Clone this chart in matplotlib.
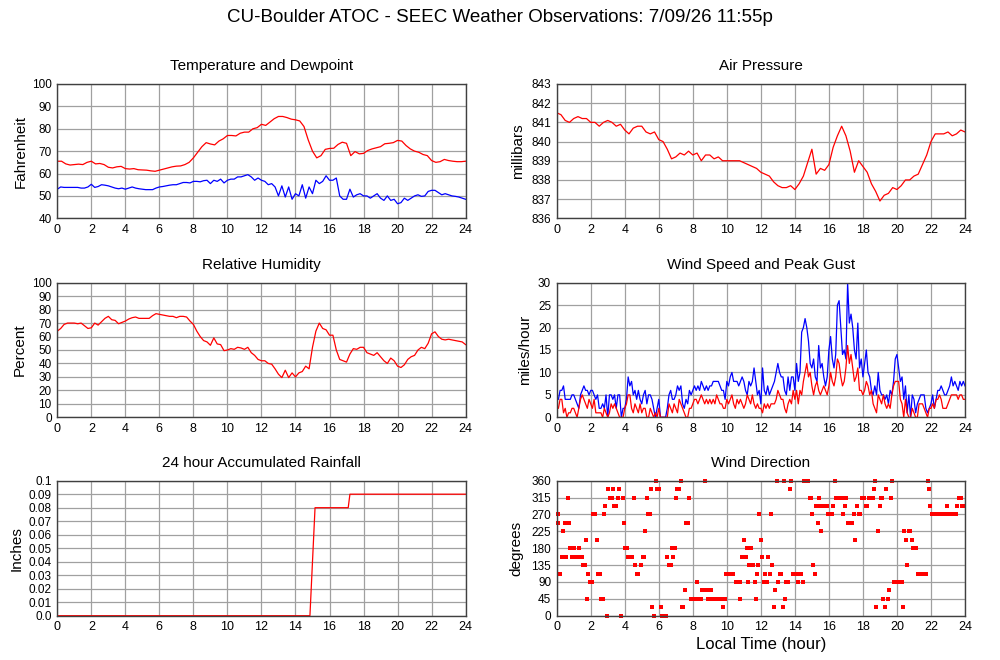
import numpy as np
import matplotlib
matplotlib.use("Agg")
import matplotlib.pyplot as plt

plt.rcParams['font.family'] = ['Liberation Sans', 'DejaVu Sans']

# ---------------- data ----------------
main_title = "CU-Boulder ATOC - SEEC Weather Observations: 7/09/26 11:55p"
hour_ticks = list(range(0, 25, 2))

# Temperature (F), every 15 minutes
temp_hours = np.arange(0, 24.001, 0.25)
temperature = [
    65.5, 65.5, 64.3, 63.8, 64.0, 64.2, 64.0, 65.0, 65.5, 64.3, 64.5, 64.0,
    62.8, 62.5, 63.0, 63.2, 62.2, 62.0, 62.2, 61.7, 61.6, 61.5, 61.2, 61.0,
    61.5, 62.0, 62.5, 63.0, 63.3, 63.4, 64.0, 65.0, 67.0, 69.5, 72.0, 73.8,
    73.2, 72.8, 74.5, 75.5, 77.0, 77.0, 76.8, 78.0, 78.5, 78.5, 80.0, 80.5,
    82.0, 81.5, 83.0, 84.5, 85.5, 85.5, 85.0, 84.3, 84.0, 83.5, 81.0, 75.0,
    70.0, 67.0, 68.0, 70.8, 71.2, 71.3, 73.0, 74.0, 73.5, 68.0, 69.8, 68.8,
    69.0, 70.3, 71.0, 71.5, 72.0, 73.3, 73.5, 73.8, 74.8, 74.5, 72.5, 71.0,
    70.0, 69.5, 68.5, 68.0, 65.8, 65.0, 65.3, 66.3, 65.8, 65.5, 65.3, 65.3,
    65.5]

# Dewpoint (F), every 12 minutes
dew_hours = np.arange(0, 24.001, 0.2)
dewpoint = [
    53, 54, 53.8, 53.8, 53.8, 53.8, 53.8, 53.5, 53.5, 54,
    55.2, 53.8, 54.2, 55, 54.8, 54.5, 54, 53.5, 53.2, 53.5,
    53, 53.5, 54, 53.5, 53.2, 53, 52.8, 52.8, 52.8, 53.5,
    54, 54.2, 54.5, 54.8, 55, 55, 55.5, 56, 56, 55.8,
    56.5, 56.5, 56.3, 56.8, 57, 55.5, 57, 56.5, 57.5, 55.8,
    57, 57.5, 57.5, 58.5, 58.5, 59, 59.5, 58.5, 57, 58,
    57, 56.5, 55, 55.5, 54, 50, 54.5, 49.5, 54, 48.5,
    51, 50, 55, 49, 54, 51, 57, 55.5, 56.5, 59,
    57, 57, 58, 50, 48.5, 48.5, 53, 49.5, 50.5, 51,
    50, 50, 49, 50, 51, 49, 48, 50, 48, 48.5,
    46.5, 47, 49, 48, 49, 50, 50.5, 49.8, 50, 52,
    52.5, 52.5, 51.5, 50.5, 51, 50.5, 50, 49.8, 49.5, 49,
    48.5]

# Air pressure (mb), every 15 minutes
pres_hours = np.arange(0, 24.001, 0.25)
pressure = [
    841.5, 841.4, 841.1, 841.0, 841.2, 841.3, 841.2, 841.2, 841.0, 841.0, 840.8, 841.0,
    841.1, 841.0, 840.8, 840.9, 840.6, 840.4, 840.7, 840.8, 840.8, 840.5, 840.4, 840.5,
    840.1, 840.0, 839.6, 839.1, 839.2, 839.4, 839.3, 839.5, 839.3, 839.4, 839.0, 839.3,
    839.3, 839.1, 839.2, 839.0, 839.0, 839.0, 839.0, 839.0, 838.9, 838.8, 838.7, 838.6,
    838.4, 838.3, 838.2, 837.9, 837.7, 837.6, 837.6, 837.7, 837.5, 837.8, 838.2, 838.9,
    839.6, 838.3, 838.6, 838.5, 838.8, 839.7, 840.3, 840.8, 840.3, 839.5, 838.4, 839.0,
    838.7, 838.4, 837.8, 837.4, 836.9, 837.2, 837.3, 837.6, 837.5, 837.7, 838.0, 838.0,
    838.2, 838.3, 838.8, 839.3, 840.0, 840.4, 840.4, 840.4, 840.5, 840.3, 840.4, 840.6,
    840.5]

# Relative humidity (%), every 12 minutes
rh_hours = np.arange(0, 24.001, 0.2)
humidity = [
    64, 66, 69, 70, 70, 70, 69.5, 70, 68, 66,
    66.5, 70, 68.5, 71, 73.5, 75, 72.5, 72, 69.5, 70.5,
    71.5, 73, 74, 74.5, 73.5, 73.5, 73.5, 73.5, 75.5, 77,
    76.5, 76, 75.5, 75, 75, 74, 75, 75, 74.5, 71.5,
    69, 64, 60, 57, 56, 53.5, 59, 54.5, 54, 49.5,
    50, 51, 50.5, 52, 51.5, 50.5, 52, 48, 46, 43,
    42, 42, 40, 39.5, 36, 32, 29.5, 35, 29.5, 33,
    30, 33, 34, 38, 36, 52, 64, 70, 66, 65,
    61, 61, 50, 43, 42, 41, 47, 51, 50.5, 52,
    52, 48, 47, 46, 48, 45, 42, 40, 44, 42,
    38, 37, 39, 43, 45, 46, 50, 52, 51, 55,
    62, 63.5, 60, 58, 57.5, 58, 57.5, 57, 56.5, 56,
    54]

# Wind speed and peak gust (mph), every 6 minutes
wind_hours = np.arange(0, 24.001, 0.1)
peak_gust = [
    4, 4, 6, 6, 7, 4, 4, 4, 4, 5,
    5, 4, 3, 2, 5, 6, 7, 6, 6, 5,
    6, 6, 5, 4, 5, 2, 2, 3, 2, 5,
    0, 5, 5, 4, 5, 2, 5, 5, 0, 2,
    2, 4, 9, 7, 8, 5, 6, 4, 6, 4,
    3, 5, 6, 3, 5, 5, 4, 2, 0, 2,
    4, 0, 0, 0, 0, 2, 5, 6, 4, 4,
    5, 7, 6, 7, 3, 2, 4, 3, 6, 5,
    6, 7, 6, 7, 6, 8, 7, 6, 7, 6,
    7, 7, 8, 8, 8, 8, 7, 6, 6, 4,
    8, 7, 9, 10, 8, 8, 8, 7, 8, 9,
    8, 6, 5, 8, 7, 8, 11, 8, 5, 6,
    3, 11, 6, 5, 7, 5, 6, 7, 8, 10,
    12, 10, 9, 9, 6, 5, 9, 6, 9, 9,
    6, 12, 8, 10, 19, 20, 22, 20, 17, 12,
    11, 13, 9, 8, 16, 11, 12, 9, 7, 9,
    15, 18, 13, 11, 14, 25, 26, 20, 14, 15,
    13, 30, 21, 23, 20, 15, 13, 21, 11, 13,
    9, 12, 15, 10, 9, 6, 5, 7, 5, 10,
    6, 5, 5, 4, 5, 3, 6, 5, 8, 13,
    14, 11, 8, 9, 4, 7, 1, 5, 0, 5,
    4, 1, 3, 4, 5, 5, 5, 2, 1, 2,
    3, 5, 2, 4, 6, 6, 7, 6, 5, 5,
    6, 7, 9, 7, 8, 7, 6, 8, 7, 8,
    7]
wind_speed = [
    2, 2, 4, 4, 1, 2, 0, 1, 1, 2,
    2, 1, 0, 2, 4, 5, 4, 3, 2, 4,
    3, 2, 4, 1, 1, 1, 1, 0, 2, 1,
    0, 1, 3, 2, 3, 2, 1, 0, 0, 0,
    2, 3, 5, 5, 2, 1, 3, 2, 1, 3,
    1, 2, 2, 0, 0, 2, 1, 0, 1, 0,
    2, 0, 0, 0, 0, 0, 3, 2, 1, 3,
    2, 1, 4, 3, 2, 1, 0, 0, 2, 2,
    3, 4, 4, 3, 4, 5, 4, 3, 4, 3,
    4, 3, 4, 3, 5, 4, 3, 3, 2, 2,
    4, 3, 4, 5, 3, 2, 4, 3, 4, 3,
    2, 3, 5, 4, 3, 5, 3, 2, 3, 2,
    2, 1, 3, 2, 3, 2, 3, 3, 3, 4,
    6, 5, 4, 4, 2, 1, 3, 4, 3, 6,
    4, 6, 3, 6, 5, 8, 10, 12, 9, 10,
    7, 5, 7, 8, 6, 5, 6, 7, 6, 5,
    7, 10, 8, 7, 9, 13, 12, 9, 7, 8,
    11, 16, 12, 14, 11, 8, 9, 11, 6, 6,
    5, 6, 8, 7, 5, 6, 3, 2, 1, 5,
    4, 3, 5, 3, 2, 3, 2, 5, 7, 8,
    8, 8, 4, 3, 0, 4, 1, 0, 0, 2,
    1, 0, 0, 3, 3, 3, 2, 1, 0, 2,
    2, 3, 2, 4, 4, 5, 4, 2, 2, 2,
    3, 4, 5, 5, 5, 5, 4, 5, 5, 4,
    4]

# 24 hour accumulated rainfall (inches)
rain_hours = [0, 14.85, 15.15, 17.1, 17.2, 24]
rain_inches = [0.0, 0.0, 0.08, 0.08, 0.09, 0.09]
rain_ticks = [0.0, 0.01, 0.02, 0.03, 0.04, 0.05, 0.06, 0.07, 0.08, 0.09, 0.1]
rain_labels = ['0.0', '0.01', '0.02', '0.03', '0.04', '0.05', '0.06', '0.07', '0.08', '0.09', '0.1']

# Wind direction (degrees)
dir_hours = [
    0.06, 0.1, 0.2, 0.3, 0.37, 0.5, 0.55, 0.65, 0.75, 0.8, 0.88, 0.95, 1.03, 1.07, 1.15, 1.2,
    1.3, 1.4, 1.5, 1.57, 1.65, 1.72, 1.78, 1.86, 1.97, 2.05, 2.15, 2.25, 2.35, 2.45, 2.55,
    2.6, 2.7, 2.8, 2.85, 2.95, 3.03, 3.13, 3.23, 3.3, 3.38, 3.48, 3.58, 3.67, 3.77, 3.87,
    3.97, 4.02, 4.12, 4.2, 4.32, 4.45, 4.55, 4.6, 4.7, 4.8, 4.95, 5.05, 5.15, 5.2, 5.28,
    5.38, 5.47, 5.53, 5.63, 5.73, 5.82, 5.92, 6.02, 6.12, 6.2, 6.3, 6.4, 6.5, 6.6, 6.7,
    6.8, 6.86, 6.94, 7.02, 7.1, 7.2, 7.3, 7.35, 7.45, 7.52, 7.62, 7.72, 7.8, 7.88, 7.97,
    8.07, 8.17, 8.27, 8.3, 8.37, 8.47, 8.56, 8.65, 8.7, 8.75, 8.85, 8.92, 8.99, 9.09, 9.18,
    9.28, 9.38, 9.48, 9.58, 9.68, 9.77, 9.87, 9.97, 10.07, 10.17, 10.27, 10.37, 10.55,
    10.65, 10.75, 10.8, 10.9, 11.0, 11.1, 11.16, 11.24, 11.33, 11.43, 11.53, 11.63, 11.69,
    11.79, 11.85, 11.92, 11.98, 12.08, 12.17, 12.27, 12.37, 12.43, 12.53, 12.6, 12.68,
    12.76, 12.86, 12.96, 13.02, 13.12, 13.2, 13.29, 13.35, 13.43, 13.5, 13.6, 13.7, 13.78,
    13.87, 13.95, 14.04, 14.13, 14.19, 14.29, 14.38, 14.46, 14.52, 14.6, 14.7, 14.8, 14.87,
    14.95, 15.0, 15.07, 15.16, 15.24, 15.34, 15.4, 15.5, 15.56, 15.63, 15.72, 15.8, 15.89,
    15.95, 16.04, 16.12, 16.18, 16.24, 16.34, 16.43, 16.52, 16.6, 16.68, 16.77, 16.83,
    16.92, 17.0, 17.12, 17.2, 17.28, 17.35, 17.45, 17.55, 17.65, 17.74, 17.84, 17.94,
    18.01, 18.08, 18.18, 18.23, 18.33, 18.42, 18.5, 18.59, 18.66, 18.72, 18.78, 18.88,
    18.98, 19.05, 19.15, 19.2, 19.31, 19.37, 19.45, 19.54, 19.64, 19.72, 19.8, 19.9, 20.0,
    20.1, 20.2, 20.3, 20.34, 20.42, 20.52, 20.58, 20.68, 20.77, 20.87, 20.93, 21.02, 21.12,
    21.22, 21.32, 21.42, 21.52, 21.62, 21.72, 21.81, 21.89, 21.96, 22.04, 22.13, 22.22,
    22.31, 22.4, 22.49, 22.58, 22.67, 22.76, 22.85, 22.92, 22.96, 23.02, 23.1, 23.18,
    23.26, 23.34, 23.42, 23.47, 23.55, 23.66, 23.76, 23.82, 23.94]
dir_degrees = [
    247.5, 270, 112.5, 157.5, 225, 247.5, 157.5, 315, 247.5, 180, 157.5, 157.5, 180, 157.5, 157.5, 157.5,
    180, 157.5, 157.5, 135, 135, 202.5, 45, 112.5, 90, 90, 270, 270, 202.5, 112.5, 112.5,
    45, 45, 270, 292.5, 0, 337.5, 315, 315, 337.5, 292.5, 292.5, 315, 337.5, 0, 315,
    247.5, 180, 180, 157.5, 157.5, 157.5, 315, 135, 112.5, 112.5, 135, 157.5, 157.5, 225, 315,
    270, 270, 337.5, 22.5, 0, 360, 337.5, 337.5, 22.5, 0, 0, 0, 157.5, 135, 135,
    180, 157.5, 180, 315, 337.5, 337.5, 360, 22.5, 22.5, 67.5, 247.5, 247.5, 315, 45, 45,
    45, 45, 90, 45, 45, 45, 67.5, 67.5, 360, 67.5, 67.5, 45, 45, 67.5, 45,
    45, 45, 45, 45, 45, 22.5, 45, 112.5, 112.5, 112.5, 112.5, 112.5, 90,
    90, 45, 90, 157.5, 202.5, 157.5, 180, 90, 135, 180, 135, 90, 45,
    112.5, 135, 270, 202.5, 157.5, 90, 112.5, 90, 157.5, 112.5, 270, 135,
    22.5, 67.5, 360, 90, 112.5, 112.5, 22.5, 360, 45, 90, 90, 337.5, 360,
    112.5, 112.5, 112.5, 112.5, 90, 112.5, 112.5, 90, 360, 360, 360, 360, 315,
    315, 270, 135, 112.5, 292.5, 247.5, 315, 292.5, 225, 292.5, 292.5, 292.5, 292.5,
    270, 270, 270, 270, 292.5, 360, 315, 315, 315, 315, 315, 270,
    292.5, 315, 247.5, 247.5, 247.5, 247.5, 270, 202.5, 292.5, 270, 270, 315,
    315, 315, 292.5, 292.5, 315, 315, 315, 315, 337.5, 360, 22.5, 225,
    292.5, 315, 315, 45, 22.5, 337.5, 45, 67.5, 315, 360, 90, 90, 90,
    90, 90, 90, 22.5, 225, 202.5, 135, 225, 225, 202.5, 180, 180, 180,
    112.5, 112.5, 112.5, 112.5, 112.5, 112.5, 360, 337.5, 292.5, 270, 270, 270,
    270, 270, 270, 270, 270, 270, 270, 270, 292.5, 270, 270, 270,
    270, 270, 270, 270, 292.5, 315, 315, 292.5, 292.5]

# ---------------- figure ----------------
RED = '#ff0000'
BLUE = '#0000ff'
GRID = '#a0a0a0'

fig = plt.figure(figsize=(10, 6.6), dpi=100)
fig.text(0.5, 1 - 18 / 660, main_title, ha='center', va='center', fontsize=13.5)

W = 660.0
left_x, right_x, aw = 57.3 / 1000, 556.7 / 1000, 408.3 / 1000
rows = [(84.0, 218.3), (282.7, 417.3), (480.7, 615.7)]


def make_ax(col, row):
    top, bot = rows[row]
    x = left_x if col == 0 else right_x
    return fig.add_axes([x, 1 - bot / W, aw, (bot - top) / W])


def style(ax, title, ylabel, ylim, yticks, ylabels=None, ylab_x=-0.075):
    ax.set_xlim(0, 24)
    ax.set_ylim(*ylim)
    ax.set_xticks(hour_ticks)
    ax.set_yticks(yticks)
    if ylabels is not None:
        ax.set_yticklabels(ylabels)
    ax.grid(True, color=GRID, linewidth=0.9)
    ax.set_axisbelow(True)
    ax.tick_params(axis='both', length=0)
    ax.tick_params(axis='x', labelsize=9, pad=4)
    ax.tick_params(axis='y', labelsize=8.5, pad=4)
    for s in ax.spines.values():
        s.set_color('#404040')
        s.set_linewidth(1.0)
    ax.set_title(title, fontsize=11, pad=10)
    ax.set_ylabel(ylabel, fontsize=11)
    ax.yaxis.set_label_coords(ylab_x, 0.5)


# Temperature and dewpoint
ax = make_ax(0, 0)
ax.plot(temp_hours, temperature, color=RED, lw=0.9)
ax.plot(dew_hours, dewpoint, color=BLUE, lw=0.9)
style(ax, "Temperature and Dewpoint", "Fahrenheit", (40, 100), range(40, 101, 10), ylab_x=-0.072)

# Air pressure
ax = make_ax(1, 0)
ax.plot(pres_hours, pressure, color=RED, lw=0.9)
style(ax, "Air Pressure", "millibars", (836, 843), range(836, 844), ylab_x=-0.077)

# Relative humidity
ax = make_ax(0, 1)
ax.plot(rh_hours, humidity, color=RED, lw=0.9)
style(ax, "Relative Humidity", "Percent", (0, 100), range(0, 101, 10), ylab_x=-0.075)

# Wind speed and gust
ax = make_ax(1, 1)
ax.plot(wind_hours, peak_gust, color=BLUE, lw=0.9)
ax.plot(wind_hours, wind_speed, color=RED, lw=0.9)
style(ax, "Wind Speed and Peak Gust", "miles/hour", (0, 30), range(0, 31, 5), ylab_x=-0.06)

# Rainfall
ax = make_ax(0, 2)
ax.plot(rain_hours, rain_inches, color=RED, lw=0.9)
style(ax, "24 hour Accumulated Rainfall", "Inches", (0, 0.1), rain_ticks, rain_labels, ylab_x=-0.083)

# Wind direction
ax = make_ax(1, 2)
ax.plot(dir_hours, dir_degrees, linestyle='none', marker='s', markersize=2.6,
        color=RED, markeredgewidth=0, clip_on=False)
style(ax, "Wind Direction", "degrees", (0, 360), range(0, 361, 45), ylab_x=-0.082)
ax.set_xlabel("Local Time (hour)", fontsize=12)
ax.xaxis.set_label_coords(0.5, -0.155)

fig.savefig("out.png", dpi=100)
